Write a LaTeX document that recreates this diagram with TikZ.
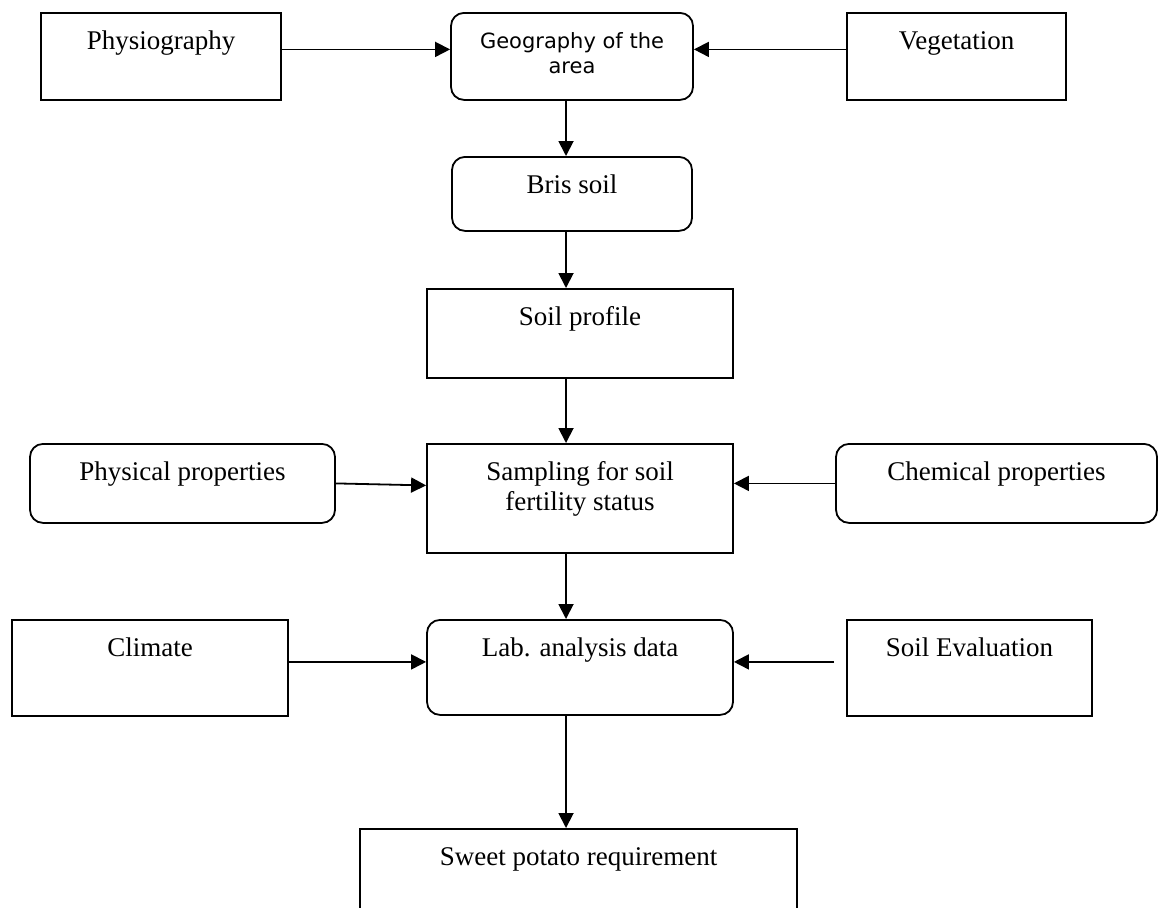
\documentclass[tikz,border=0pt]{standalone}
\usepackage{fontspec}
\setmainfont{Liberation Serif}
\newfontfamily\geofont{DejaVu Sans}
\usetikzlibrary{arrows.meta}
\tikzstyle{box}=[draw, rectangle, anchor=north, inner sep=0pt, align=center, text height=18.5pt, line width=0.9pt, font=\fontsize{13.5}{15}\selectfont]
\tikzstyle{roundbox}=[box, rounded corners=6.5pt]
\tikzstyle{link}=[draw=black, line width=0.9pt, -{Triangle[length=7.5pt,width=7.5pt]}]

\begin{document}
\begin{tikzpicture}[x=0.5pt,y=-0.5pt]
    \useasboundingbox (0,0) rectangle (1159,907);
    \clip (0,0) rectangle (1159,907);

    \begin{scope}[every node/.style={box}]
        \node[minimum width=120pt, text depth=25pt] (physio) at (161,12) {Physiography};
        \node[minimum width=109.5pt, text depth=25pt] (veget) at (956.5,12) {Vegetation};
        \node[minimum width=153pt, text depth=26pt] (profile) at (580,288) {Soil profile};
        \node[minimum width=153pt, text height=33.5pt, text depth=21pt] (sampling) at (580,443) {Sampling for soil\\fertility status};
        \node[minimum width=138pt, text depth=29.5pt] (climate) at (150,619) {Climate};
        \node[minimum width=122.5pt, text depth=29.5pt] (soileval) at (969.5,619) {Soil Evaluation};
        \node[minimum width=218.5pt, text depth=60pt] (sweet) at (578.5,828) {Sweet potato requirement};
    \end{scope}

    \begin{scope}[every node/.style={roundbox}]
        \node[minimum width=121pt, text height=30.5pt, text depth=13pt, font=\geofont\fontsize{10.5}{12.5}\selectfont] (geo) at (572,12) {Geography of the\\area};
        \node[minimum width=120pt, text depth=18.5pt] (bris) at (572,156) {Bris soil};
        \node[minimum width=152.5pt, text depth=21pt] (physical) at (182.5,443) {Physical properties};
        \node[minimum width=160.5pt, text depth=21pt] (chemical) at (996.5,443) {Chemical properties};
        \node[minimum width=153pt, text depth=29pt] (lab) at (580,619) {Lab. analysis data};
    \end{scope}

    % arrows
    \coordinate (spine) at (566,0);
    \coordinate (evalstart) at ([xshift=-6pt,yshift=3pt]soileval.west);
    \begin{scope}[every path/.style={link}]
        \path ([yshift=3.5pt]physio.east) -- ([yshift=3.5pt]physio.east -| geo.west);
        \path ([yshift=3.5pt]veget.west) -- ([yshift=3.5pt]veget.west -| geo.east);
        \path (geo.south -| spine) -- (bris.north -| spine);
        \path (bris.south -| spine) -- (profile.north -| spine);
        \path (profile.south -| spine) -- (sampling.north -| spine);
        \path (physical.east) -- ([yshift=-1pt]physical.east -| sampling.west);
        \path (chemical.west) -- (chemical.west -| sampling.east);
        \path (sampling.south -| spine) -- (lab.north -| spine);
        \path ([yshift=3pt]climate.east) -- ([yshift=3pt]climate.east -| lab.west);
        \path (evalstart) -- (evalstart -| lab.east);
        \path (lab.south -| spine) -- (sweet.north -| spine);
    \end{scope}
\end{tikzpicture}
\end{document}
